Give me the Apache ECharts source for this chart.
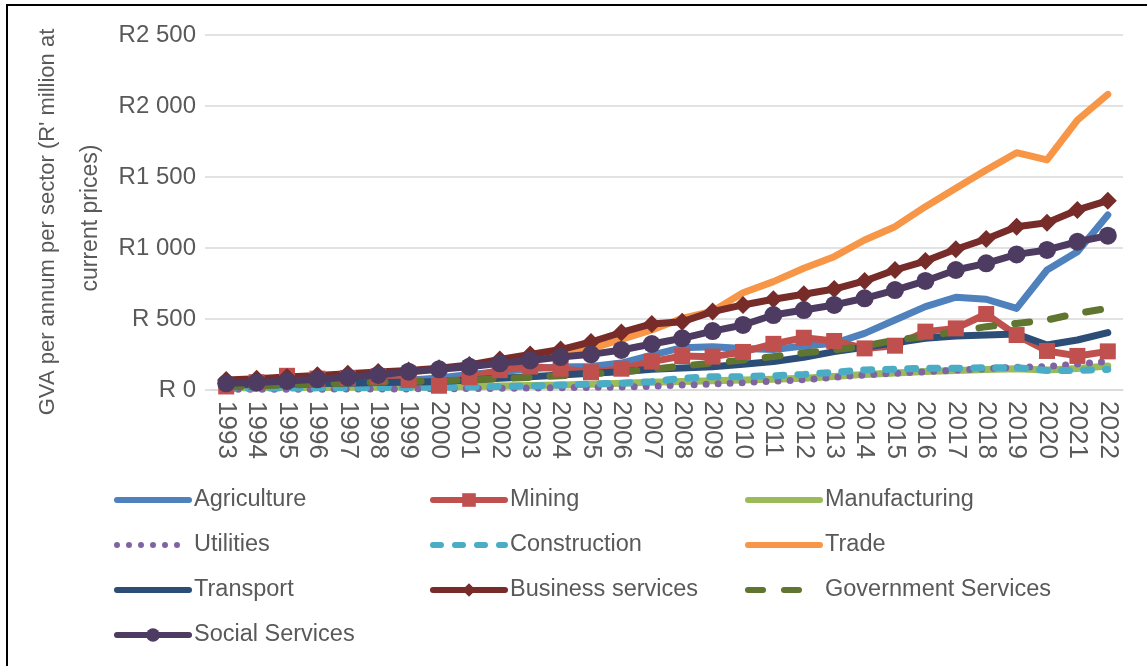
<!DOCTYPE html>
<html>
<head>
<meta charset="utf-8">
<script src="https://cdn.jsdelivr.net/npm/echarts@6/dist/echarts.min.js"></script>
<style>
html,body{margin:0;padding:0;width:1147px;height:666px;overflow:hidden;background:#fff;}
#frame{position:absolute;left:6px;top:4px;width:1200px;height:720px;border:2px solid #000;box-sizing:border-box;}
#chart{position:absolute;left:0;top:0;width:1147px;height:666px;}
</style>
</head>
<body>
<div id="frame"></div>
<div id="chart"></div>
<script>
var years = ['1993','1994','1995','1996','1997','1998','1999','2000','2001','2002','2003','2004','2005','2006','2007','2008','2009','2010','2011','2012','2013','2014','2015','2016','2017','2018','2019','2020','2021','2022'];
var yTicks = [0, 500, 1000, 1500, 2000, 2500];
var agriculture = [30,34,38,43,48,55,68,85,110,128,150,162,166,190,245,298,305,292,285,310,329,399,493,587,653,639,575,845,974,1232];
var mining = [25,55,100,80,85,95,70,30,90,140,165,150,125,150,200,239,235,268,325,368,345,293,312,411,434,535,387,275,240,272];
var manufacturing = [15,16,17,18,19,20,21,22,25,28,31,35,40,48,55,59,65,70,76,82,95,110,120,130,138,145,150,141,152,169];
var utilities = [5,5,6,6,7,7,8,8,10,12,14,16,18,21,26,35,42,52,62,72,90,106,117,129,140,150,160,165,183,200];
var construction = [12,13,14,15,16,17,18,19,21,24,28,35,42,48,59,82,94,94,100,110,125,141,146,153,153,157,157,138,138,145];
var trade = [55,65,75,87,100,112,125,150,170,195,218,242,292,357,423,505,555,685,763,857,939,1056,1150,1291,1420,1549,1671,1620,1901,2082];
var transport = [35,38,42,45,48,52,55,60,70,82,94,106,118,129,146,155,164,181,200,230,270,301,333,364,380,387,394,317,352,404];
var business = [70,80,92,103,115,127,138,153,176,215,250,285,338,405,465,481,552,599,639,674,711,768,845,908,991,1063,1150,1178,1268,1333];
var government = [20,28,35,42,50,55,60,65,70,80,89,100,113,128,146,169,190,211,235,262,282,310,352,376,411,446,469,493,540,575];
var social = [47,52,63,75,89,106,129,146,164,188,208,232,251,282,324,364,415,458,528,563,599,646,704,768,845,892,955,986,1044,1087];

var FONT = '"Liberation Sans", Arial, sans-serif';
var TXT = '#595959';
var LW = 7;

function fmt(v){
  if (v === 0) return 'R 0';
  var th = Math.floor(v/1000), r = v % 1000;
  if (th > 0) return 'R' + th + ' ' + String(r).padStart(3,'0');
  return 'R ' + r;
}

function mk(name, data, color, opts){
  var s = {
    name: name, type: 'line', data: data, smooth: false,
    symbol: 'none', showSymbol: false,
    lineStyle: {color: color, width: LW, cap: 'round', join: 'round'},
    itemStyle: {color: color},
    emphasis: {disabled: true},
    animation: false
  };
  if (opts) {
    if (opts.type) s.lineStyle.type = opts.type;
    if (opts.symbol) { s.symbol = opts.symbol; s.showSymbol = true; s.symbolSize = opts.size; }
  }
  return s;
}

var series = [
  mk('Agriculture', agriculture, '#4F81BD'),
  mk('Mining', mining, '#C0504D', {symbol:'rect', size:16}),
  mk('Manufacturing', manufacturing, '#9BBB59'),
  mk('Utilities', utilities, '#8064A2', {type:[0, 12]}),
  mk('Construction', construction, '#4BACC6', {type:[8, 14]}),
  mk('Trade', trade, '#F79646'),
  mk('Transport', transport, '#2C4D75'),
  mk('Business services', business, '#772C2A', {symbol:'diamond', size:18}),
  mk('Government Services', government, '#5F7530', {type:[15, 21]}),
  mk('Social Services', social, '#4D3B62', {symbol:'circle', size:18})
];

var markerNames = {'Mining':1, 'Business services':1, 'Social Services':1};
function legItem(n){
  if (markerNames[n]) return {name: n};
  return {name: n, itemStyle: {color: 'rgba(0,0,0,0)', borderColor: 'rgba(0,0,0,0)', borderWidth: 0}};
}
function leg(left, names){
  return {
    orient: 'vertical', left: left, top: 488, padding: 0,
    itemWidth: 72, itemHeight: 17, itemGap: 21,
    selectedMode: false,
    lineStyle: {width: 6},
    textStyle: {color: TXT, fontSize: 23.5, fontFamily: FONT, lineHeight: 24},
    data: names.map(legItem)
  };
}

var chart = echarts.init(document.getElementById('chart'), null, {renderer: 'canvas'});
chart.setOption({
  backgroundColor: 'transparent',
  animation: false,
  grid: {left: 211, right: 24, top: 35, bottom: 276, containLabel: false},
  xAxis: {
    type: 'category', data: years, boundaryGap: true,
    axisLine: {show: true, lineStyle: {color: '#D9D9D9', width: 1.5}},
    axisTick: {show: false},
    axisLabel: {rotate: -90, color: TXT, fontSize: 26, fontFamily: FONT, margin: 11, interval: 0}
  },
  yAxis: {
    type: 'value', min: 0, max: 2500, interval: 500,
    axisLine: {show: false},
    axisTick: {show: true, length: 6, lineStyle: {color: '#D9D9D9', width: 1.5}},
    splitLine: {show: true, lineStyle: {color: '#D9D9D9', width: 1.5}},
    axisLabel: {formatter: fmt, color: TXT, fontSize: 24, fontFamily: FONT, margin: 15}
  },
  legend: [
    leg(114, ['Agriculture','Utilities','Transport','Social Services']),
    leg(430, ['Mining','Construction','Business services']),
    leg(745, ['Manufacturing','Trade','Government Services'])
  ],
  graphic: [{
    type: 'text', x: 48, y: 222,
    rotation: Math.PI/2,
    style: {
      text: "GVA per annum per sector (R' million at",
      fill: TXT, fontSize: 22, fontFamily: FONT, align: 'center', verticalAlign: 'middle'
    }
  }, {
    type: 'text', x: 91, y: 218,
    rotation: Math.PI/2,
    style: {
      text: "current prices)",
      fill: TXT, fontSize: 23, fontFamily: FONT, align: 'center', verticalAlign: 'middle'
    }
  }],
  series: series
});
</script>
</body>
</html>
